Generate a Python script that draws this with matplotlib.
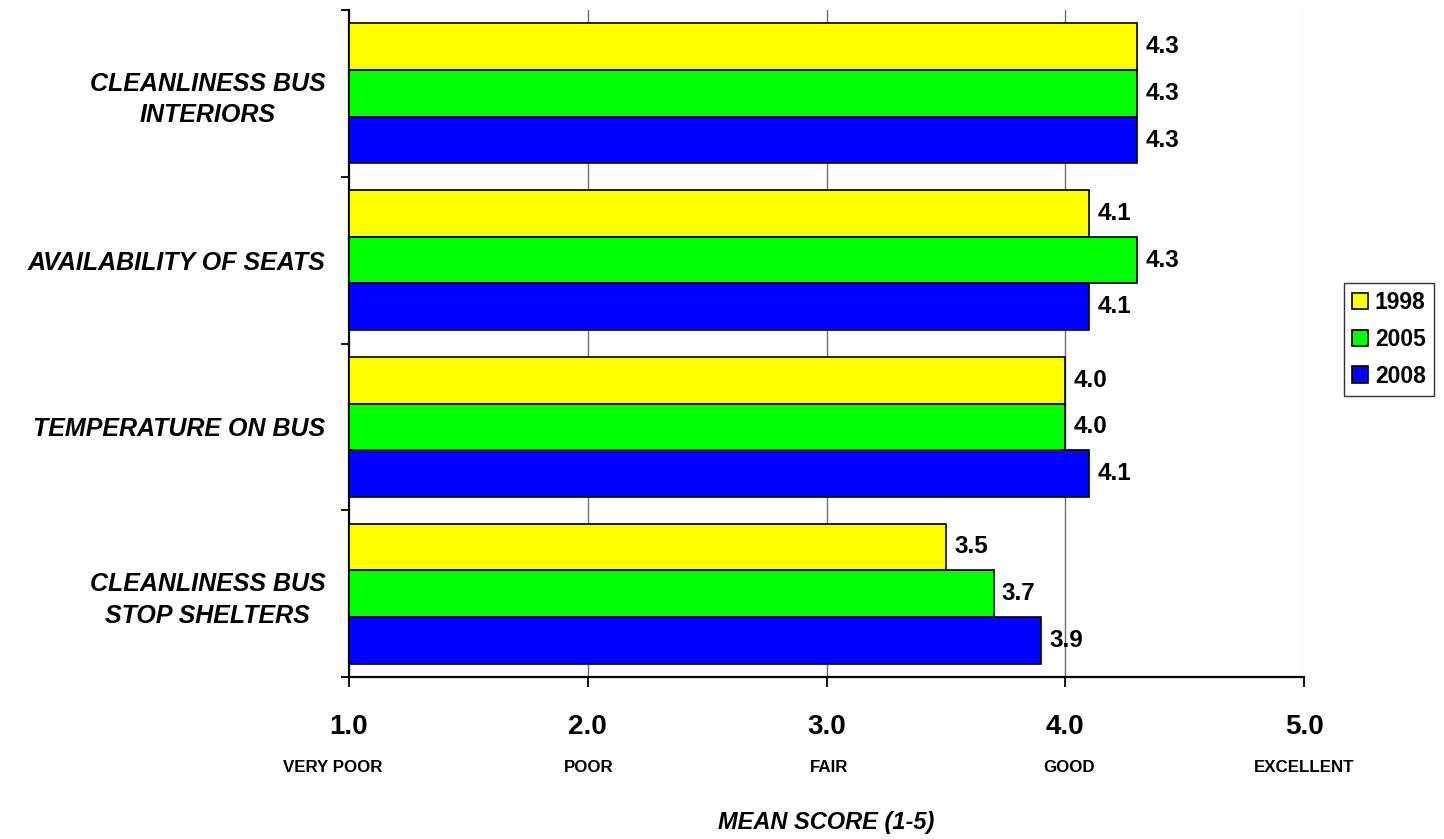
import matplotlib
matplotlib.use("Agg")
import matplotlib.pyplot as plt
import matplotlib.transforms as mtransforms
import numpy as np

plt.rcParams['font.family'] = ['Liberation Sans', 'DejaVu Sans']

categories = ["CLEANLINESS BUS\nINTERIORS", "AVAILABILITY OF SEATS",
              "TEMPERATURE ON BUS", "CLEANLINESS BUS\nSTOP SHELTERS"]
years = ["1998", "2005", "2008"]
scores_1998 = [4.3, 4.1, 4.0, 3.5]
scores_2005 = [4.3, 4.3, 4.0, 3.7]
scores_2008 = [4.3, 4.1, 4.1, 3.9]
x_ticks = [1.0, 2.0, 3.0, 4.0, 5.0]
x_tick_labels = ["1.0", "2.0", "3.0", "4.0", "5.0"]
x_descriptors = ["VERY POOR", "POOR", "FAIR", "GOOD", "EXCELLENT"]

series = [scores_1998, scores_2005, scores_2008]
colors = ["#FFFF00", "#00FF00", "#0000FF"]

fig = plt.figure(figsize=(14.44, 8.39), dpi=100)
ax = fig.add_axes([349 / 1444, 1 - 677 / 839, (1304 - 349) / 1444, (677 - 10) / 839])

bar_h = 0.28
gap = 0.08
base = 1.0
centers = np.arange(len(categories)) + 0.5
for k, (vals, col, yr) in enumerate(zip(series, colors, years)):
    ypos = np.arange(len(categories)) + gap + bar_h * (k + 0.5)
    widths = [v - base for v in vals]
    ax.barh(ypos, widths, left=base, height=bar_h, color=col,
            edgecolor="black", linewidth=1.2, label=yr, zorder=3)
    for y, v in zip(ypos, vals):
        ax.annotate(f"{v:.1f}", xy=(v, y), xytext=(6, 0), textcoords="offset points",
                    ha="left", va="center", fontsize=17.5, fontweight="bold", zorder=4)

ax.set_xlim(1.0, 5.0)
ax.set_ylim(len(categories), 0)

# vertical gridlines
for gx in [2.0, 3.0, 4.0]:
    ax.axvline(gx, color="#6e6e6e", linewidth=1.0, zorder=1)
ax.axvline(5.0, color="#eeeeee", linewidth=1.0, zorder=1)

for s in ["top", "right"]:
    ax.spines[s].set_visible(False)
for s in ["left", "bottom"]:
    ax.spines[s].set_linewidth(1.6)
    ax.spines[s].set_color("black")

ax.set_xticks(x_ticks)
ax.set_xticklabels(x_tick_labels, fontsize=20, fontweight="bold")
ax.tick_params(axis="x", direction="out", length=7, width=1.3, pad=20)

ax.set_yticks(np.arange(len(categories) + 1))
ax.set_yticklabels([])
ax.set_yticks(centers, minor=True)
ax.set_yticklabels(categories, minor=True, fontsize=18, fontweight="bold",
                   fontstyle="italic", multialignment="center", linespacing=1.4)
ax.tick_params(axis="y", which="major", direction="out", length=6, width=1.3)
ax.tick_params(axis="y", which="minor", length=0, pad=17)

# verbal scale descriptors under the numeric ticks
trans = mtransforms.blended_transform_factory(ax.transData, ax.transAxes)
ax_h = 667.0
desc_shift = [-12, 1, 2, 3, 0]
for xv, d, dx in zip(x_ticks, x_descriptors, desc_shift):
    ax.annotate(d, xy=(xv, -(767 - 677) / ax_h), xycoords=trans,
                xytext=(dx, 0), textcoords="offset points",
                ha="center", va="center", fontsize=12.2, fontweight="bold",
                annotation_clip=False)

ax.text(0.5, -(822 - 677) / ax_h, "MEAN SCORE (1-5)", transform=ax.transAxes,
        ha="center", va="center", fontsize=17, fontweight="bold", fontstyle="italic")

leg = fig.legend(loc="upper left", bbox_to_anchor=(1344 / 1444, 1 - 283 / 839),
                 prop={"size": 16.5, "weight": "bold"}, frameon=True, fancybox=False,
                 edgecolor="black", handlelength=0.7, handleheight=0.7,
                 handletextpad=0.3, labelspacing=0.6, borderpad=0.35,
                 borderaxespad=0.0)
leg.get_frame().set_linewidth(1.0)

fig.savefig("out.png", dpi=100)
